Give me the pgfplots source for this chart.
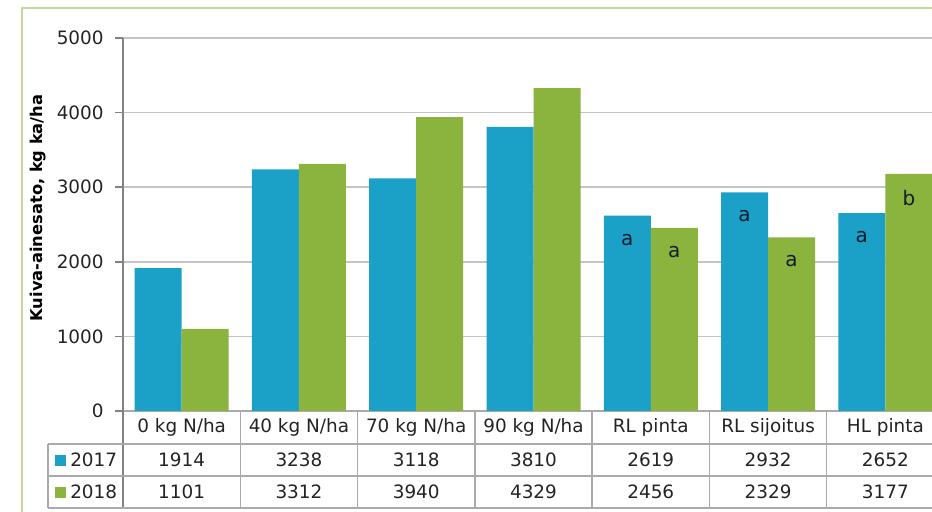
\documentclass[border=0pt]{standalone}
\usepackage{pgfplots}
\pgfplotsset{compat=1.18}
\usepackage{pgfplotstable}
\usepackage{fontspec}
\setmainfont{DejaVu Sans}

\definecolor{c17}{RGB}{27,161,199}
\definecolor{c18}{RGB}{138,180,62}
\definecolor{framec}{RGB}{196,215,155}
\definecolor{gridc}{RGB}{196,196,196}
\definecolor{axisc}{RGB}{130,130,130}
\definecolor{tablec}{RGB}{170,170,170}
\definecolor{textc}{RGB}{35,35,35}
\definecolor{letterc}{RGB}{20,28,45}

\newcommand\tabfont{\fontsize{13.8}{16}\selectfont}
\newcommand\letterfont{\fontsize{15}{17}\selectfont}

% dry matter yield, kg DM/ha, with significance letters
\pgfplotstableread[col sep=comma]{
x,label,v17,v18,m17,m18
0,0 kg N/ha,1914,1101,,
1,40 kg N/ha,3238,3312,,
2,70 kg N/ha,3118,3940,,
3,90 kg N/ha,3810,4329,,
4,RL pinta,2619,2456,a,a
5,RL sijoitus,2932,2329,a,a
6,HL pinta,2652,3177,a,b
}\yielddata

\begin{document}
\begin{tikzpicture}[x=0.75pt,y=0.75pt]
\useasboundingbox (0,0) rectangle (932,511);
\clip (0,0) rectangle (932,511);

% chart frame
\draw[framec, line width=1.5pt] (22,-5) -- (22,503) -- (940,503);

\coordinate (plotorigin) at (123,100);
\begin{axis}[
  at={(plotorigin)}, anchor=south west,
  scale only axis, width=615.75pt, height=279.75pt,
  xmin=-0.5, xmax=6.5, ymin=0, ymax=5000,
  ybar=0pt, bar width=35.25pt,
  xtick=\empty,
  ytick={0,1000,...,5000},
  ymajorgrids, grid style={draw=gridc, line width=1.1pt},
  axis x line*=bottom, axis y line*=left,
  x axis line style={draw=tablec, line width=1.1pt, -},
  y axis line style={draw=axisc, line width=1.3pt, -},
  tick align=outside, major tick length=6pt,
  ytick style={draw=axisc, line width=1.1pt},
  yticklabel style={font=\tabfont, text=textc, xshift=-5pt},
  /pgf/number format/assume math mode=true,
  /pgf/number format/1000 sep={},
  clip=false,
]
\addplot[fill=c17, draw=none, nodes near coords, point meta=explicit symbolic,
  nodes near coords style={anchor=center, yshift=-18pt, text=letterc, font=\letterfont}]
  table[x=x, y=v17, meta=m17]{\yielddata};
\addplot[fill=c18, draw=none, nodes near coords, point meta=explicit symbolic,
  nodes near coords style={anchor=center, yshift=-18pt, text=letterc, font=\letterfont}]
  table[x=x, y=v18, meta=m18]{\yielddata};
\end{axis}

% y axis title
\node[rotate=90, font=\bfseries\fontsize{12.2}{14}\selectfont, text=black] at (38,303)
  {Kuiva-ainesato, kg ka/ha};

% data table below the plot
\draw[axisc, line width=1.3pt] (123,100) -- (123,3);
\foreach \k in {1,...,7}
  \draw[tablec, line width=1.1pt] ({123+117.286*\k},100) -- ({123+117.286*\k},3);
\draw[tablec, line width=1.1pt] (48,67) -- (950,67);
\draw[tablec, line width=1.1pt] (48,35) -- (950,35);
\draw[tablec, line width=1.1pt] (48,3) -- (950,3);
\draw[tablec, line width=1.1pt] (48,67) -- (48,3);

\fill[c17] (55,45.5) rectangle (66,56.5);
\node[anchor=west, font=\tabfont, text=textc, inner sep=0pt] at (70,51) {2017};
\fill[c18] (55,13.5) rectangle (66,24.5);
\node[anchor=west, font=\tabfont, text=textc, inner sep=0pt] at (70,19) {2018};

\foreach \i in {0,...,6} {
  \pgfplotstablegetelem{\i}{label}\of\yielddata
  \node[font=\tabfont, text=textc] at ({123+117.286*(\i+0.5)},83.5) {\pgfplotsretval};
  \pgfplotstablegetelem{\i}{v17}\of\yielddata
  \node[font=\tabfont, text=textc] at ({123+117.286*(\i+0.5)},51) {\pgfplotsretval};
  \pgfplotstablegetelem{\i}{v18}\of\yielddata
  \node[font=\tabfont, text=textc] at ({123+117.286*(\i+0.5)},19) {\pgfplotsretval};
}
\end{tikzpicture}
\end{document}
